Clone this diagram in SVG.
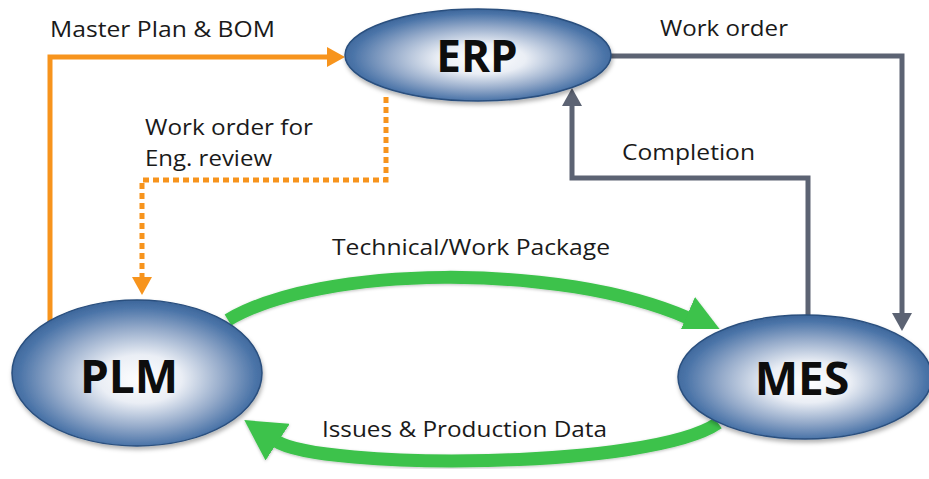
<svg xmlns="http://www.w3.org/2000/svg" width="929" height="479" viewBox="0 0 929 479">
<defs>
<radialGradient id="blue" cx="50%" cy="52%" r="55%" fx="52%" fy="55%">
<stop offset="0" stop-color="#ffffff"/>
<stop offset="0.3" stop-color="#eaeef5"/>
<stop offset="0.62" stop-color="#93a9c9"/>
<stop offset="0.86" stop-color="#4b74a8"/>
<stop offset="1" stop-color="#345e92"/>
</radialGradient>
<filter id="sh" x="-10%" y="-10%" width="120%" height="130%">
<feDropShadow dx="1" dy="3" stdDeviation="2" flood-color="#000" flood-opacity="0.3"/>
</filter>
<filter id="glow" x="-10%" y="-20%" width="120%" height="140%">
<feDropShadow dx="0" dy="1" stdDeviation="1.5" flood-color="#000" flood-opacity="0.25"/>
</filter>
<marker id="ao" markerUnits="userSpaceOnUse" markerWidth="18" markerHeight="22" refX="3" refY="11" orient="auto">
<path d="M0,1 L18,11 L0,21 z" fill="#F7941D"/>
</marker>
<marker id="ag" markerUnits="userSpaceOnUse" markerWidth="18" markerHeight="22" refX="3" refY="11" orient="auto">
<path d="M0,1 L18,11 L0,21 z" fill="#5c6373"/>
</marker>
<marker id="agr" markerUnits="userSpaceOnUse" markerWidth="40" markerHeight="44" refX="2" refY="22" orient="auto">
<path d="M0,0 L40,22 L0,44 z" fill="#3cc24b"/>
</marker>
</defs>
<style>
.lbl{font-family:"Open Sans","Liberation Sans",sans-serif;font-size:22px;fill:#1a1a1a}
.node{font-family:"Open Sans","Liberation Sans",sans-serif;font-weight:bold;fill:#0d0d0d;text-anchor:middle}
.ell{fill:url(#blue);stroke:#2a4f7e;stroke-width:1.5;filter:url(#sh)}
.or{fill:none;stroke:#F7941D;stroke-width:5}
.gr{fill:none;stroke:#5c6373;stroke-width:5}
.green{fill:none;stroke:#3cc24b;stroke-width:13;filter:url(#glow)}
</style>
<rect width="929" height="479" fill="#ffffff"/>
<g id="connectors">
<path class="or" d="M50,322 L50,57 L330,57" marker-end="url(#ao)"/>
<path class="or" d="M386,97 L386,180 L142,180 L142,280" stroke-dasharray="6,4" marker-end="url(#ao)"/>
<path class="gr" d="M608,56 L902,56 L902,316" marker-end="url(#ag)"/>
<path class="gr" d="M808,316 L808,178 L572,178 L572,103" marker-end="url(#ag)"/>
<path class="green" d="M228,320 C320,265 560,262 688,318" marker-end="url(#agr)"/>
<path class="green" d="M718,423 C650,470 320,470 276,441" marker-end="url(#agr)"/>
</g>
<g id="ERP">
<ellipse class="ell" cx="478" cy="55" rx="133" ry="46"/>
<text class="node" x="477" y="72" font-size="44">ERP</text>
</g>
<g id="PLM">
<ellipse class="ell" cx="137" cy="373" rx="125" ry="73"/>
<text class="node" x="129" y="393" font-size="46">PLM</text>
</g>
<g id="MES">
<ellipse class="ell" cx="805" cy="377" rx="127" ry="62"/>
<text class="node" x="802" y="395" font-size="46">MES</text>
</g>
<g id="labels">
<text class="lbl" x="50" y="37" textLength="225" lengthAdjust="spacingAndGlyphs">Master Plan &amp; BOM</text>
<text class="lbl" x="145" y="135" textLength="168" lengthAdjust="spacingAndGlyphs">Work order for</text>
<text class="lbl" x="145" y="166" textLength="127" lengthAdjust="spacingAndGlyphs">Eng. review</text>
<text class="lbl" x="660" y="36" textLength="128" lengthAdjust="spacingAndGlyphs">Work order</text>
<text class="lbl" x="622" y="160" textLength="133" lengthAdjust="spacingAndGlyphs">Completion</text>
<text class="lbl" x="332" y="255" textLength="278" lengthAdjust="spacingAndGlyphs">Technical/Work Package</text>
<text class="lbl" x="322" y="437" textLength="285" lengthAdjust="spacingAndGlyphs">Issues &amp; Production Data</text>
</g>
</svg>
